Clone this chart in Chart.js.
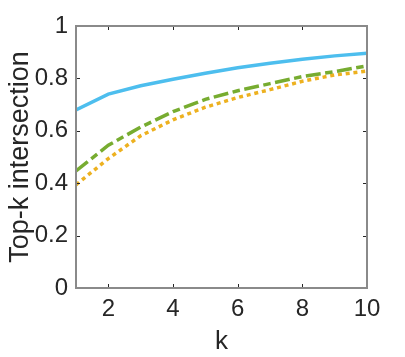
<!DOCTYPE html>
<html>
<head>
<meta charset="utf-8">
<script src="https://cdn.jsdelivr.net/npm/chart.js@4/dist/chart.umd.min.js"></script>
<style>
  body { margin: 0; background: #fff; }
</style>
</head>
<body>
<canvas id="topkChart" width="405" height="357"></canvas>
<script>
const kValues = [1, 2, 3, 4, 5, 6, 7, 8, 9, 10];
const blueSeries = [0.680, 0.740, 0.772, 0.797, 0.820, 0.841, 0.858, 0.873, 0.886, 0.896];
const greenSeries = [0.447, 0.545, 0.614, 0.673, 0.720, 0.753, 0.780, 0.807, 0.826, 0.848];
const orangeSeries = [0.394, 0.494, 0.581, 0.642, 0.690, 0.727, 0.757, 0.789, 0.813, 0.828];
const xTicks = [2, 4, 6, 8, 10];
const yTicks = [0, 0.2, 0.4, 0.6, 0.8, 1];

const toPoints = (ys) => ys.map((y, i) => ({ x: kValues[i], y: y }));

// matlab style box with inward ticks
const boxPlugin = {
    id: 'boxPlugin',
    afterDatasetsDraw(chart) {
        const ctx = chart.ctx;
        const a = chart.chartArea;
        const xs = chart.scales.x;
        const ys = chart.scales.y;
        ctx.save();
        ctx.strokeStyle = '#262626';
        ctx.lineWidth = 1;
        ctx.beginPath();
        xTicks.forEach(v => {
            const px = Math.round(xs.getPixelForValue(v)) + 0.5;
            ctx.moveTo(px, a.bottom); ctx.lineTo(px, a.bottom - 4);
            ctx.moveTo(px, a.top); ctx.lineTo(px, a.top + 4);
        });
        yTicks.forEach(v => {
            const py = Math.round(ys.getPixelForValue(v)) + 0.5;
            ctx.moveTo(a.left, py); ctx.lineTo(a.left + 4, py);
            ctx.moveTo(a.right, py); ctx.lineTo(a.right - 4, py);
        });
        ctx.stroke();
        ctx.strokeStyle = '#8a8a8a';
        ctx.lineWidth = 2;
        ctx.strokeRect(a.left, a.top, a.right - a.left, a.bottom - a.top);
        ctx.restore();
    }
};

const ctx = document.getElementById('topkChart').getContext('2d');
const chart = new Chart(ctx, {
    type: 'line',
    data: {
        datasets: [
            {
                data: toPoints(blueSeries),
                borderColor: '#4DBEEE',
                borderWidth: 3.5,
                pointRadius: 0,
                fill: false,
                tension: 0
            },
            {
                data: toPoints(greenSeries),
                borderColor: '#77AC30',
                borderWidth: 3.5,
                borderDash: [15, 4.5, 7.5, 4.5],
                pointRadius: 0,
                fill: false,
                tension: 0
            },
            {
                data: toPoints(orangeSeries),
                borderColor: '#EDB120',
                borderWidth: 3.5,
                borderDash: [4, 3.8],
                pointRadius: 0,
                fill: false,
                tension: 0
            }
        ]
    },
    options: {
        responsive: false,
        animation: false,
        layout: {
            padding: { top: 26, right: 38, bottom: 0, left: 0 }
        },
        plugins: {
            legend: { display: false },
            tooltip: { enabled: false }
        },
        scales: {
            x: {
                type: 'linear',
                min: 1,
                max: 10,
                afterBuildTicks: (scale) => { scale.ticks = xTicks.map(v => ({ value: v })); },
                afterFit: (scale) => { scale.height = 69; },
                grid: { display: false, drawTicks: false },
                border: { display: false },
                ticks: {
                    color: '#262626',
                    padding: 7,
                    maxRotation: 0,
                    font: { family: 'Liberation Sans, Arial', size: 24 }
                },
                title: {
                    display: true,
                    text: 'k',
                    color: '#262626',
                    padding: 0,
                    font: { family: 'Liberation Sans, Arial', size: 26 }
                }
            },
            y: {
                min: 0,
                max: 1,
                afterBuildTicks: (scale) => { scale.ticks = yTicks.map(v => ({ value: v })); },
                afterFit: (scale) => { scale.width = 76; },
                grid: { display: false, drawTicks: false },
                border: { display: false },
                ticks: {
                    color: '#262626',
                    padding: 8,
                    callback: (v) => String(v),
                    font: { family: 'Liberation Sans, Arial', size: 24 }
                },
                title: {
                    display: true,
                    text: 'Top-k intersection',
                    color: '#262626',
                    padding: { top: 4, bottom: 0 },
                    font: { family: 'Liberation Sans, Arial', size: 27 }
                }
            }
        }
    },
    plugins: [boxPlugin]
});
</script>
</body>
</html>
